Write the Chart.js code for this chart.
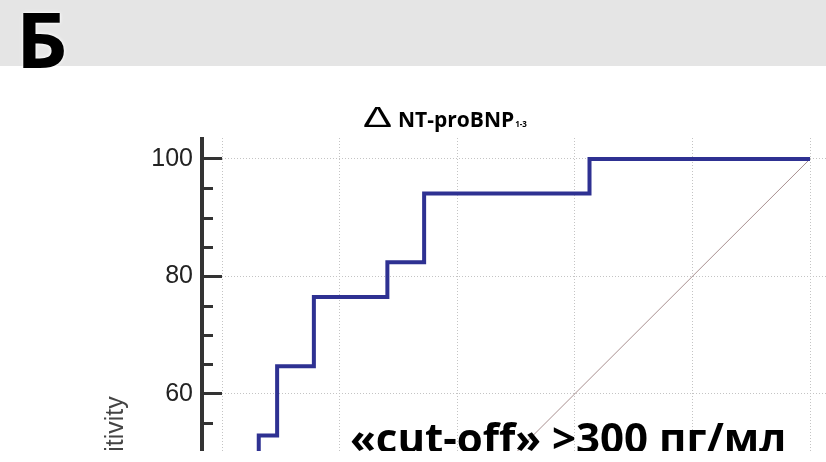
<!DOCTYPE html>
<html>
<head>
<meta charset="utf-8">
<script src="https://cdn.jsdelivr.net/npm/chart.js@4.4.1/dist/chart.umd.min.js"></script>
<style>
	body { margin: 0; background: #fff; overflow: hidden; width: 826px; height: 462px; position: relative; }
	#band { position: absolute; left: 0; top: 0; width: 826px; height: 66px; background: #e5e5e5; }
	#letter { position: absolute; left: 16px; top: 0px; font: bold 77px/1 "Open Sans"; color: #000; text-shadow: 0 0 4px #fff, 0 0 2px #fff; transform: scaleX(1.05); transform-origin: left top; }
	#chartBox { position: absolute; left: 0; top: 0; width: 826px; height: 451px; overflow: hidden; }
	#title { position: absolute; left: 0; top: 0; width: 826px; height: 140px; pointer-events: none; }
	#delta { position: absolute; left: 363px; top: 102px; font: 30px/1 "Liberation Sans"; transform: scaleX(1.45); transform-origin: left top; }
	#marker { position: absolute; left: 398px; top: 109px; font: bold 21px/1 "Open Sans"; color: #000; }
	#marker sub { font-size: 8px; vertical-align: baseline; margin-left: 1px; }
	#cutoff { position: absolute; left: 350px; top: 416px; font: bold 42px/1 "Open Sans"; color: #000; white-space: nowrap; }
</style>
</head>
<body>
<div id="band"></div>
<div id="letter">Б</div>
<div id="chartBox">
	<canvas id="roc" width="860" height="830"></canvas>
	<div id="cutoff">«cut-off» &gt;300 пг/мл</div>
</div>
<div id="title"><span id="delta">Δ</span><span id="marker">NT-proBNP<sub>1-3</sub></span></div>
<script>
// ROC points: 100-specificity and sensitivity, top of every step
var rocFpr = [0, 0, 3.125, 6.25, 9.375, 15.625, 28.125, 34.375, 62.5, 100];
var rocSens = [0, 17.6, 35.3, 52.9, 64.7, 76.5, 82.4, 94.1, 100, 100];
var diagX = [0, 100];
var diagY = [0, 100];
var majorTicks = [0, 20, 40, 60, 80, 100];

var gridColor = "#c4c4c4";
var axisColor = "#333";

function toPoints(xs, ys) {
	var pts = [];
	for (var i = 0; i < xs.length; i++) {
		pts.push({ x: xs[i], y: ys[i] });
	}
	return pts;
}

function isMajor(value) {
	return majorTicks.indexOf(value) !== -1;
}

// axis line sits left of the plot, minor ticks every 5
var axisPlugin = {
	id: "leftAxis",
	afterDraw: function (chart) {
		var ctx = chart.ctx;
		var yScale = chart.scales.y;
		var axisX = chart.chartArea.left - 20;
		ctx.save();
		ctx.strokeStyle = axisColor;
		ctx.lineWidth = 4;
		ctx.beginPath();
		ctx.moveTo(axisX, chart.chartArea.top - 1);
		ctx.lineTo(axisX, chart.chartArea.bottom);
		ctx.stroke();
		ctx.lineWidth = 3;
		yScale.ticks.forEach(function (t) {
			if (!isMajor(t.value)) {
				var py = Math.round(yScale.getPixelForValue(t.value)) + 0.5;
				ctx.beginPath();
				ctx.moveTo(axisX, py);
				ctx.lineTo(axisX + 11, py);
				ctx.stroke();
			}
		});
		ctx.restore();
	}
};

new Chart(document.getElementById("roc"), {
	type: "line",
	data: {
		datasets: [{
			data: toPoints(rocFpr, rocSens),
			borderColor: "#2e3192",
			borderWidth: 4,
			stepped: "before",
			pointRadius: 0,
			fill: false,
			borderJoinStyle: "miter",
			order: 1
		}, {
			data: toPoints(diagX, diagY),
			borderColor: "#a88f8f",
			borderWidth: 1,
			pointRadius: 0,
			fill: false,
			order: 2
		}]
	},
	options: {
		responsive: false,
		animation: false,
		devicePixelRatio: 1,
		layout: { padding: { top: 138, right: 27, bottom: 0, left: 0 } },
		plugins: { legend: { display: false }, tooltip: { enabled: false }, title: { display: false } },
		scales: {
			x: {
				type: "linear",
				min: 0,
				max: 103.91,
				border: { display: false, dash: [1, 2] },
				grid: { color: gridColor, lineWidth: 1, drawTicks: false },
				ticks: { stepSize: 20, includeBounds: false, display: false },
				afterFit: function (scale) { scale.height = 63; }
			},
			y: {
				type: "linear",
				min: -3.57,
				max: 103.57,
				border: { display: false, dash: [1, 2] },
				grid: {
					color: function (c) { return c.tick && isMajor(c.tick.value) ? gridColor : "rgba(0,0,0,0)"; },
					tickColor: function (c) { return c.tick && isMajor(c.tick.value) ? axisColor : "rgba(0,0,0,0)"; },
					tickLength: 20,
					tickWidth: 3,
					tickBorderDash: []
				},
				ticks: {
					stepSize: 5,
					includeBounds: false,
					autoSkip: false,
					padding: 9,
					color: "#222",
					font: { family: "Liberation Sans", size: 25 },
					callback: function (v) { return isMajor(v) ? String(v) : ""; }
				},
				title: {
					display: true,
					text: "Sensitivity",
					color: "#444",
					font: { family: "Liberation Sans", size: 25 },
					padding: { top: 101, bottom: 0 }
				},
				afterFit: function (scale) { scale.width = 222; }
			}
		}
	},
	plugins: [axisPlugin]
});
</script>
</body>
</html>
